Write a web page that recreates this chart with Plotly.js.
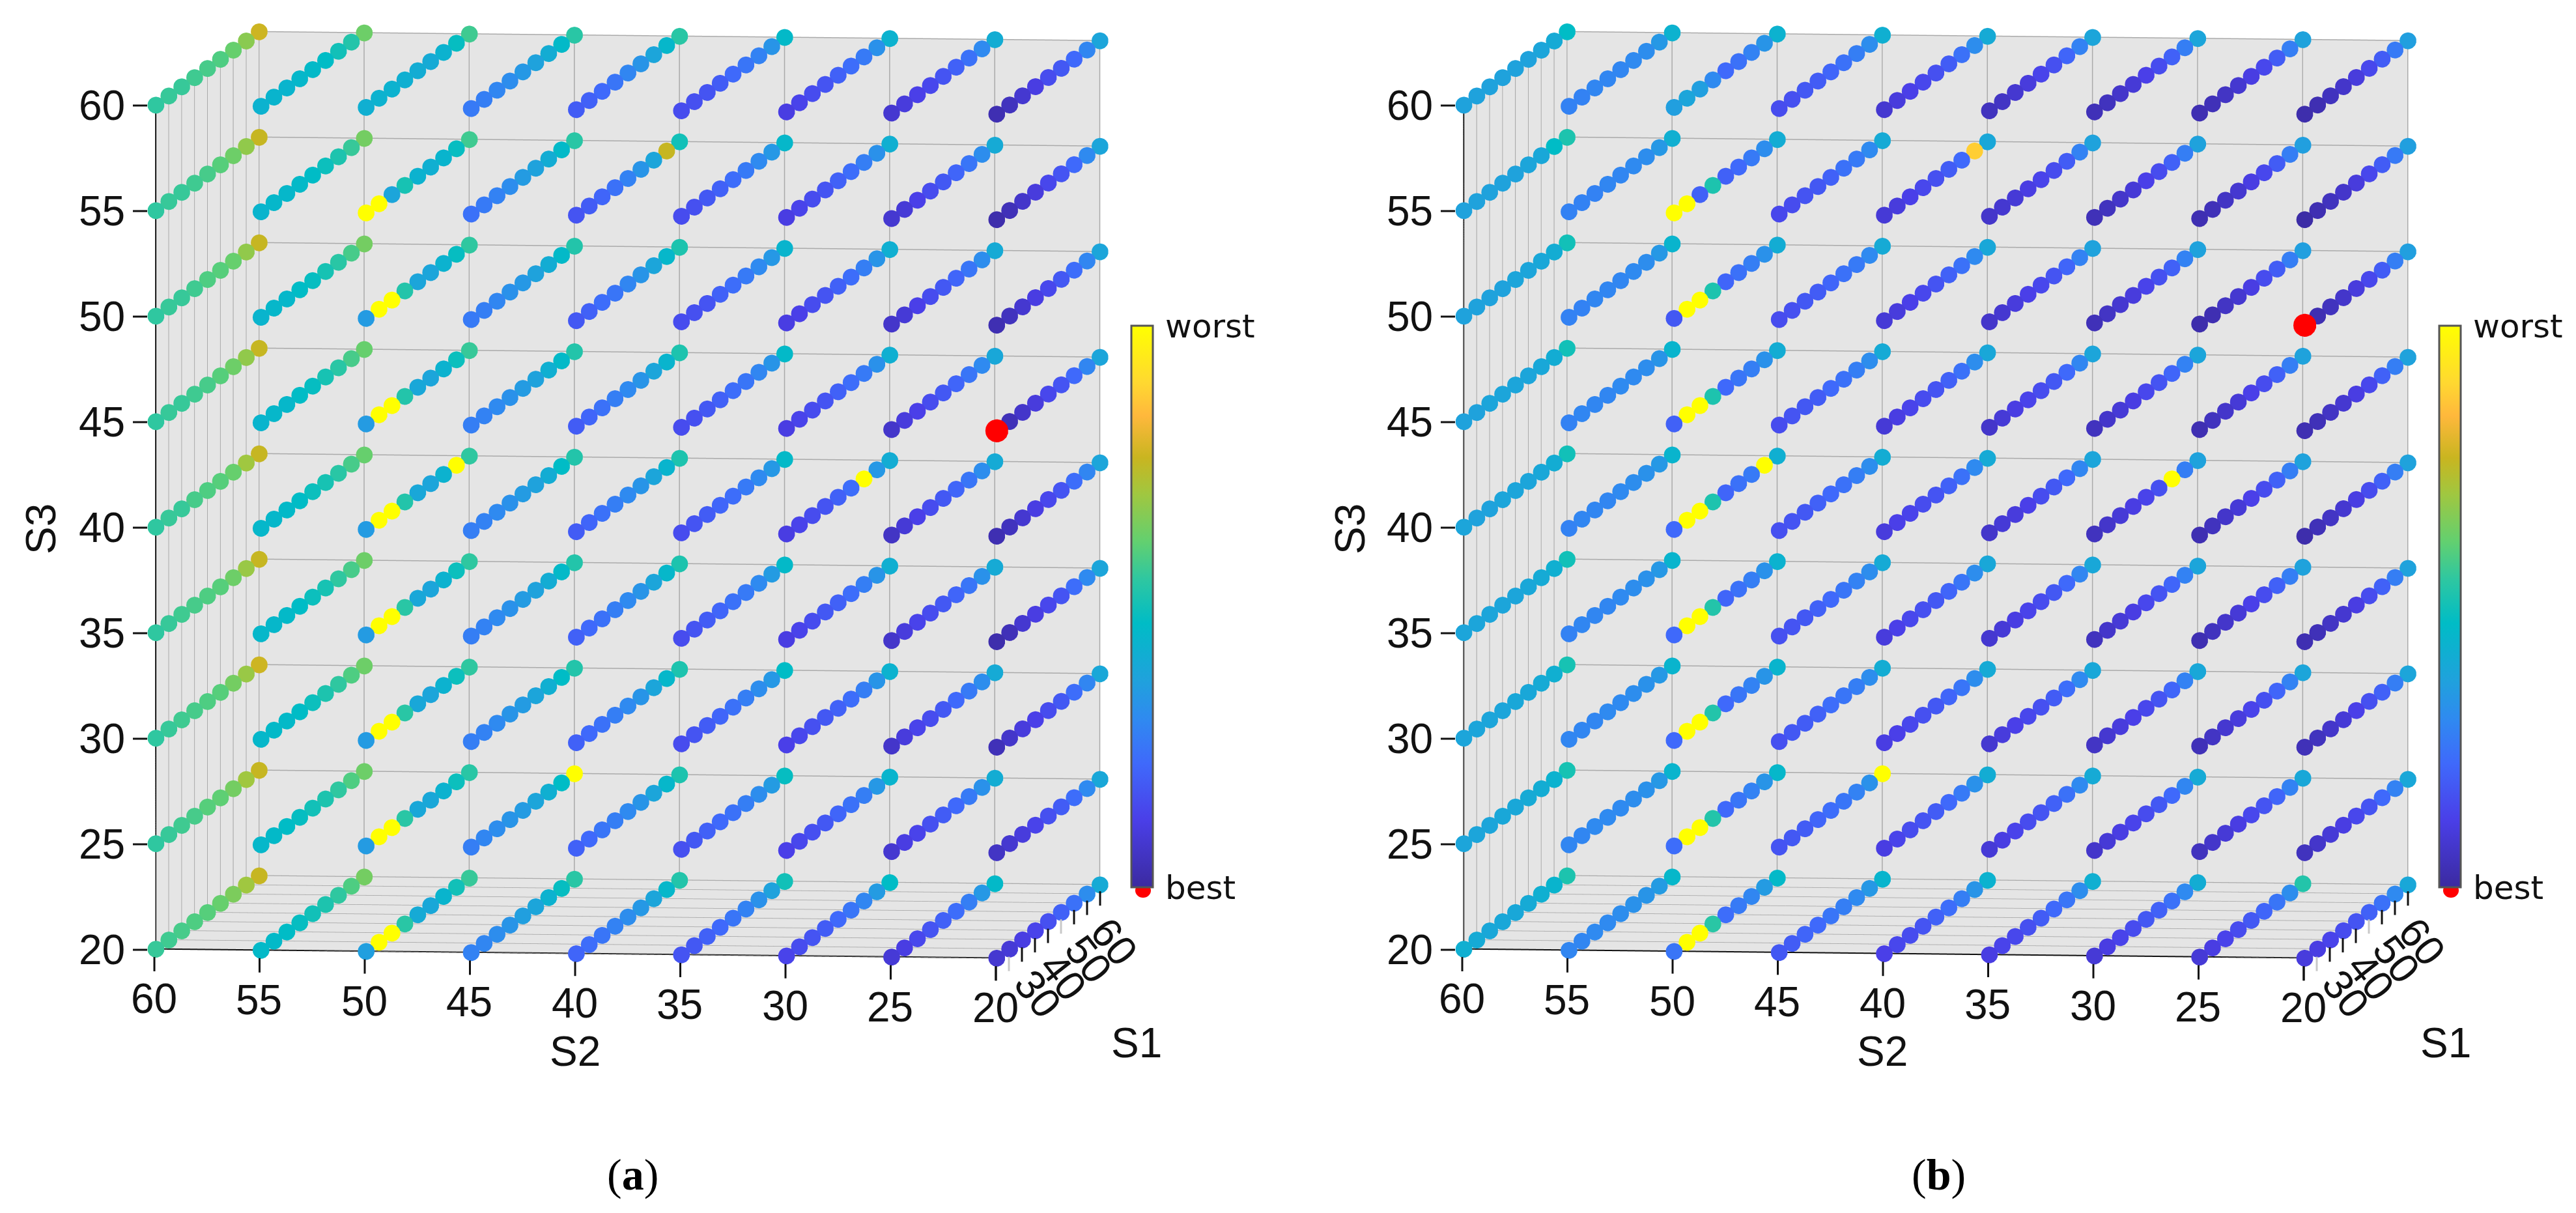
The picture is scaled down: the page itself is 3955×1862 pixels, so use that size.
<!DOCTYPE html>
<html><head><meta charset="utf-8">
<script src="https://cdn.plot.ly/plotly-3.0.1.min.js"></script>
<style>html,body{margin:0;padding:0;background:#fff}#g{width:3955px;height:1862px}</style>
</head><body><div id="g"></div>
<script>
var S1=[20,25,30,35,40,45,50,55,60];
var S2=[60,55,50,45,40,35,30,25,20];
var S3=[60,55,50,45,40,35,30,25,20];
var S1labels=['','','30','','40','','50','','60'];
var S1tickColors=['#111','#c8c8c8','#111','#111','#111','#c8c8c8','#111','#111','#111'];
var colorStops=[[0,'#3b2aa0'],[0.12,'#4a3fe8'],[0.22,'#3f69fb'],[0.30,'#2f8af0'],[0.37,'#1fa2dc'],[0.47,'#00bcc6'],[0.55,'#2fc7a0'],[0.615,'#62d070'],[0.70,'#a0c740'],[0.765,'#c9b520'],[0.84,'#ffb83c'],[0.90,'#ffd930'],[1,'#ffff00']];
// rows: S2 = 60..20, columns: S1 = 20..60
var a60=[[55,56,56,57,58,59,62,67,77],[43,44,44,45,46,47,50,53,63],[42,43,43,42,41,40,43,48,57],[26,27,29,31,34,37,41,46,54],[19,20,22,25,29,33,38,45,54],[15,16,17,19,22,25,28,33,46],[11,13,15,17,20,23,26,32,43],[8,10,12,14,17,20,24,30,41],[3,5,8,11,15,18,22,29,38]];
var a55=[[55,56,56,57,58,60,63,68,76],[44,45,45,46,47,49,52,56,64],[100,100,38,51,43,42,44,48,57],[24,26,28,31,35,37,41,46,54],[17,19,21,24,28,33,38,76,50],[15,16,18,20,23,26,30,34,45],[11,13,15,17,20,23,27,32,42],[8,9,12,15,18,21,25,31,40],[2,4,7,10,14,17,22,30,38]];
var a50=[[55,56,56,57,59,60,62,68,76],[44,45,45,47,48,51,54,58,64],[35,100,100,53,38,38,43,48,55],[26,27,29,32,34,37,41,46,53],[18,20,23,25,29,33,38,45,52],[15,16,17,20,23,26,30,34,44],[11,12,15,17,20,23,27,33,42],[7,9,12,15,18,21,25,31,40],[3,5,8,11,14,18,23,29,38]];
var a45=[[55,56,56,57,58,60,63,68,76],[44,45,45,47,48,51,54,58,62],[35,100,100,53,39,38,43,49,56],[27,28,30,32,35,37,42,46,53],[19,21,24,27,30,33,38,44,52],[15,16,18,20,23,25,29,33,46],[11,13,15,17,20,23,26,32,42],[7,10,12,15,18,21,25,30,39],[3,4,7,10,14,17,22,29,38]];
var a40=[[55,56,56,58,59,60,62,70,76],[45,45,46,47,49,51,54,58,62],[35,100,100,53,39,38,43,100,55],[27,28,30,32,35,37,41,47,53],[19,21,24,27,30,33,38,44,52],[15,17,19,21,23,26,30,34,46],[11,13,15,17,20,23,100,34,41],[6,9,12,15,18,21,25,31,40],[3,5,8,11,14,17,23,29,38]];
var a35=[[55,56,57,58,59,60,63,69,76],[45,45,46,47,49,51,55,58,63],[35,100,100,54,39,38,43,49,55],[27,28,30,32,35,37,41,46,53],[20,22,24,27,30,33,38,45,52],[15,17,19,21,24,26,30,35,46],[11,13,15,18,20,23,27,33,42],[7,10,13,15,18,21,25,32,40],[2,4,8,11,14,17,23,30,38]];
var a30=[[55,56,57,58,59,60,64,69,77],[45,46,46,47,49,52,55,59,63],[35,100,100,54,39,38,43,49,55],[27,28,30,33,35,38,42,47,53],[20,22,24,27,30,33,38,45,52],[15,17,19,21,24,27,31,34,47],[12,14,16,18,20,23,27,33,43],[7,10,13,15,18,22,26,31,40],[4,7,10,12,15,18,23,29,39]];
var a25=[[55,56,57,58,60,61,64,70,76],[45,46,47,48,50,52,55,59,63],[35,100,100,54,39,39,43,49,54],[27,29,31,33,35,38,42,47,100],[20,22,25,27,30,33,38,45,52],[16,18,20,22,24,27,31,35,48],[12,14,16,18,21,24,27,34,44],[8,11,13,16,19,22,26,32,41],[6,8,10,13,16,19,23,30,39]];
var a20=[[56,57,58,59,60,62,65,70,76],[46,46,47,48,50,52,55,59,64],[36,100,100,54,40,39,44,50,56],[28,29,31,33,36,38,43,48,54],[21,23,25,28,31,34,38,45,53],[17,18,20,22,25,28,32,37,50],[13,15,17,19,22,25,29,35,47],[9,11,14,17,20,23,27,34,46],[8,9,11,13,16,20,24,31,40]];
var b60=[[37,37,37,37,37,37,38,40,47],[28,28,29,29,29,30,31,34,43],[36,38,36,30,22,24,28,33,43],[15,16,18,19,21,24,27,31,42],[8,10,12,14,16,19,24,31,40],[5,6,8,10,13,16,21,28,38],[4,5,7,9,12,15,20,27,38],[3,4,6,8,11,14,19,27,37],[2,3,5,7,10,14,19,26,36]];
var b55=[[37,37,37,37,37,38,39,47,52],[28,28,28,29,29,30,31,34,42],[100,100,20,52,20,22,26,31,41],[14,15,17,18,20,24,26,30,40],[9,10,12,14,16,19,22,88,39],[7,8,9,11,13,15,19,28,37],[4,5,7,9,12,15,20,27,37],[3,4,6,8,11,14,19,27,36],[1,3,5,7,10,14,19,26,36]];
var b50=[[37,37,37,37,38,38,39,41,50],[28,28,29,29,29,30,31,34,44],[18,100,100,52,21,24,27,32,41],[15,16,18,19,21,24,26,30,40],[9,10,12,14,17,20,24,30,39],[7,8,10,12,14,17,21,28,37],[4,6,8,10,13,16,20,28,37],[2,3,6,8,11,15,19,27,36],[2,3,5,7,10,14,19,27,36]];
var b45=[[37,37,38,38,38,38,39,41,50],[28,29,29,29,30,30,31,33,44],[20,100,100,52,22,25,27,32,41],[15,17,18,19,22,24,27,31,40],[9,11,13,15,17,20,24,31,39],[7,9,11,13,15,18,22,29,38],[5,7,9,11,14,17,21,28,38],[3,5,7,9,12,15,20,27,37],[3,4,6,8,11,14,20,27,37]];
var b40=[[38,37,37,38,38,38,39,41,50],[28,29,29,29,30,31,32,34,44],[22,100,100,52,21,24,26,100,42],[16,17,18,20,22,24,27,31,41],[10,12,13,15,17,20,24,30,40],[7,9,10,12,15,18,22,29,38],[5,7,9,11,13,16,100,27,37],[3,5,7,9,12,15,20,27,37],[2,4,6,8,11,15,20,27,37]];
var b35=[[38,38,38,38,38,39,40,42,50],[28,29,29,29,30,31,32,34,44],[22,100,100,53,21,24,27,32,43],[16,17,18,20,22,25,28,31,40],[10,12,14,16,18,21,25,31,39],[8,9,11,13,15,18,22,29,39],[5,7,9,11,14,17,21,28,38],[3,5,7,9,12,15,20,27,37],[3,4,6,8,11,15,20,27,37]];
var b30=[[38,38,38,38,39,39,40,42,51],[29,29,29,30,30,31,32,34,44],[22,100,100,53,22,25,28,33,44],[16,18,19,20,23,25,27,31,41],[11,12,14,16,18,21,25,31,40],[8,10,12,14,16,19,23,30,39],[6,8,10,12,14,17,21,28,39],[4,6,8,10,13,16,21,28,38],[4,5,7,9,12,16,20,27,38]];
var b25=[[38,38,38,39,39,40,41,43,51],[29,29,30,30,30,31,32,34,44],[23,100,100,53,22,25,28,33,45],[17,18,19,21,23,25,28,32,100],[11,13,15,17,19,22,26,32,41],[9,11,13,15,17,20,24,30,40],[7,9,11,13,15,18,22,29,40],[5,7,9,11,14,17,21,28,39],[5,7,9,11,14,17,22,28,39]];
var b20=[[42,40,39,39,39,40,42,44,52],[29,29,30,30,31,32,33,35,45],[25,100,100,54,23,26,29,35,46],[18,19,21,22,25,27,30,34,44],[12,14,15,17,20,23,27,33,43],[11,13,14,16,19,22,25,31,42],[9,11,13,15,18,20,24,30,41],[9,11,13,15,18,21,25,31,53],[10,11,13,15,17,20,24,30,39]];
var bestA={s1:[20],s2:[20],s3:[45]};
var bestB={s1:[20],s2:[20],s3:[50]};

var W=3955,H=1862,DOT=15,RED=20.5;
function cloud(tables,scene,withBar){
  var x=[],y=[],z=[],c=[];
  tables.forEach(function(t,k){t.forEach(function(row,i){row.forEach(function(v,j){
    x.push(S1[j]);y.push(S2[i]);z.push(S3[k]);c.push(v);
  });});});
  var m={size:DOT,color:c,cmin:0,cmax:100,colorscale:colorStops,opacity:1,line:{width:0},showscale:true,
    colorbar:{thicknessmode:'pixels',thickness:33,lenmode:'pixels',len:862,xanchor:'left',yanchor:'top',xpad:0,ypad:0,
      x:withBar.x/W,y:1-500/H,tickmode:'array',tickvals:[0,100],ticktext:['best','worst'],ticks:'outside',ticklen:8,tickcolor:'rgba(0,0,0,0)',
      tickfont:{family:'DejaVu Sans',size:50,color:'#111'},outlinecolor:'#555',outlinewidth:3,borderwidth:0}};
  return {type:'scatter3d',mode:'markers',scene:scene,x:x,y:y,z:z,marker:m,hoverinfo:'skip',showlegend:false};
}
function best(b,scene){
  return {type:'scatter3d',mode:'markers',scene:scene,x:b.s1,y:b.s2,z:b.s3,marker:{size:RED,color:'#ff0000',opacity:1,line:{width:0}},hoverinfo:'skip',showlegend:false};
}
function frameTrace(b,scene){
  return {type:'scatter3d',mode:'markers',scene:scene,x:b.s1,y:b.s2,z:b.s3,marker:{size:1,color:'rgba(0,0,0,0)',opacity:0,line:{width:0}},hoverinfo:'skip',showlegend:false};
}
function axis(tv){
  return {title:{text:''},range:[20,60],autorange:false,
    tickmode:'array',tickvals:tv,showticklabels:false,ticks:'',showline:true,linecolor:'#111',linewidth:4,
    showgrid:true,gridcolor:'#aaaaaa',gridwidth:3,zeroline:false,showbackground:true,backgroundcolor:'#e5e5e5',showspikes:false};
}
var hidden={visible:false,range:[20,60],autorange:false,showbackground:false,showgrid:false,zeroline:false,showline:false,showticklabels:false,ticks:'',title:{text:''}};
function cam(sx){
  var e=2.0,sz=-0.185;
  return {projection:{type:'orthographic'},up:{x:0,y:0,z:1},center:{x:0.0033*sx,y:-0.0268*sx,z:sz},
      eye:{x:-0.9887*e+0.0033*sx,y:-0.1214*e-0.0268*sx,z:0.0872*e+sz}};
}
var K=1.397;
function sceneOf(dom,sx){
  return {domain:{x:dom,y:[0,1]},aspectmode:'manual',aspectratio:{x:K,y:K,z:K},dragmode:false,camera:cam(sx),
    xaxis:axis(S1),yaxis:axis(S2),zaxis:axis(S3)};
}
function dotsScene(dom,sx){
  return {domain:{x:dom,y:[0,1]},aspectmode:'manual',aspectratio:{x:K,y:K,z:K},dragmode:false,camera:cam(sx),
    xaxis:hidden,yaxis:hidden,zaxis:hidden,bgcolor:'rgba(0,0,0,0)'};
}
var data=[
  frameTrace(bestA,'scene'),frameTrace(bestB,'scene2'),
  cloud([a60,a55,a50,a45,a40,a35,a30,a25,a20],'scene3',{x:1737}),best(bestA,'scene3'),
  cloud([b60,b55,b50,b45,b40,b35,b30,b25,b20],'scene4',{x:3745}),best(bestB,'scene4')
];
function dot(cx){return {type:'circle',xref:'paper',yref:'paper',fillcolor:'#ff0000',line:{width:0},layer:'above',
  x0:(cx-12)/W,x1:(cx+12)/W,y0:1-(1367+11)/H,y1:1-(1367-11)/H};}
function tag(t,cx){return {xref:'paper',yref:'paper',x:cx/W,y:1-1803/H,xanchor:'center',yanchor:'middle',showarrow:false,text:t,font:{family:'Liberation Serif',size:68,color:'#000'}};}
function axt(t,cx,cy,ang){return {xref:'paper',yref:'paper',x:cx/W,y:1-cy/H,xanchor:'center',yanchor:'middle',showarrow:false,text:t,textangle:ang||0,font:{family:'Liberation Sans',size:64,color:'#111'}};}
function seg(x0,y0,x1,y1,col){return {type:'line',xref:'paper',yref:'paper',x0:x0/W,x1:x1/W,y0:1-y0/H,y1:1-y1/H,line:{color:col||'#111',width:3},layer:'above'};}
// axis furniture in the picture plane: the projected position of a cube corner plus one step per axis unit
function furniture(off,shapes,notes){
  var ox=237+off,oy=1458;
  S3.forEach(function(v){var y=oy-(v-20)*32.4;
    shapes.push(seg(ox-33,y,ox-11,y));
    notes.push(axt(String(v),ox-81,y));});
  S2.forEach(function(v){var x=ox+(60-v)*32.3,y=oy+(60-v)*0.36;
    shapes.push(seg(x,y+11,x,y+33));
    notes.push(axt(String(v),x-1,y+75));});
  S1.forEach(function(v,i){var x=ox+1292+(v-20)*4,y=oy+14-(v-20)*2.87;
    shapes.push(seg(x,y+11,x,y+33,S1tickColors[i]));
    if(S1labels[i]) notes.push(axt(S1labels[i],x+24-(v-30)*0.1,y+82+(v-30)*0.2,52));});
  notes.push(axt('S3',63+off+(off?2:0),812,-90),axt('S2',883+off-(off?1:0),1614),axt('S1',1745+off+(off?2:0),1601));
}
var shapes=[dot(1755),dot(3763)],notes=[tag('(<b>a</b>)',971),tag('(<b>b</b>)',2976)];
furniture(0,shapes,notes);furniture(2008,shapes,notes);
var layout={width:W,height:H,margin:{l:0,r:0,t:0,b:0},paper_bgcolor:'#fff',showlegend:false,
  scene:sceneOf([0,0.5],1),scene2:sceneOf([0.5,1],-0.2),
  scene3:dotsScene([0,0.5],1),scene4:dotsScene([0.5,1],-0.2),
  shapes:shapes,annotations:notes};
Plotly.newPlot('g',data,layout,{displayModeBar:false,staticPlot:false,responsive:false});
</script></body></html>
